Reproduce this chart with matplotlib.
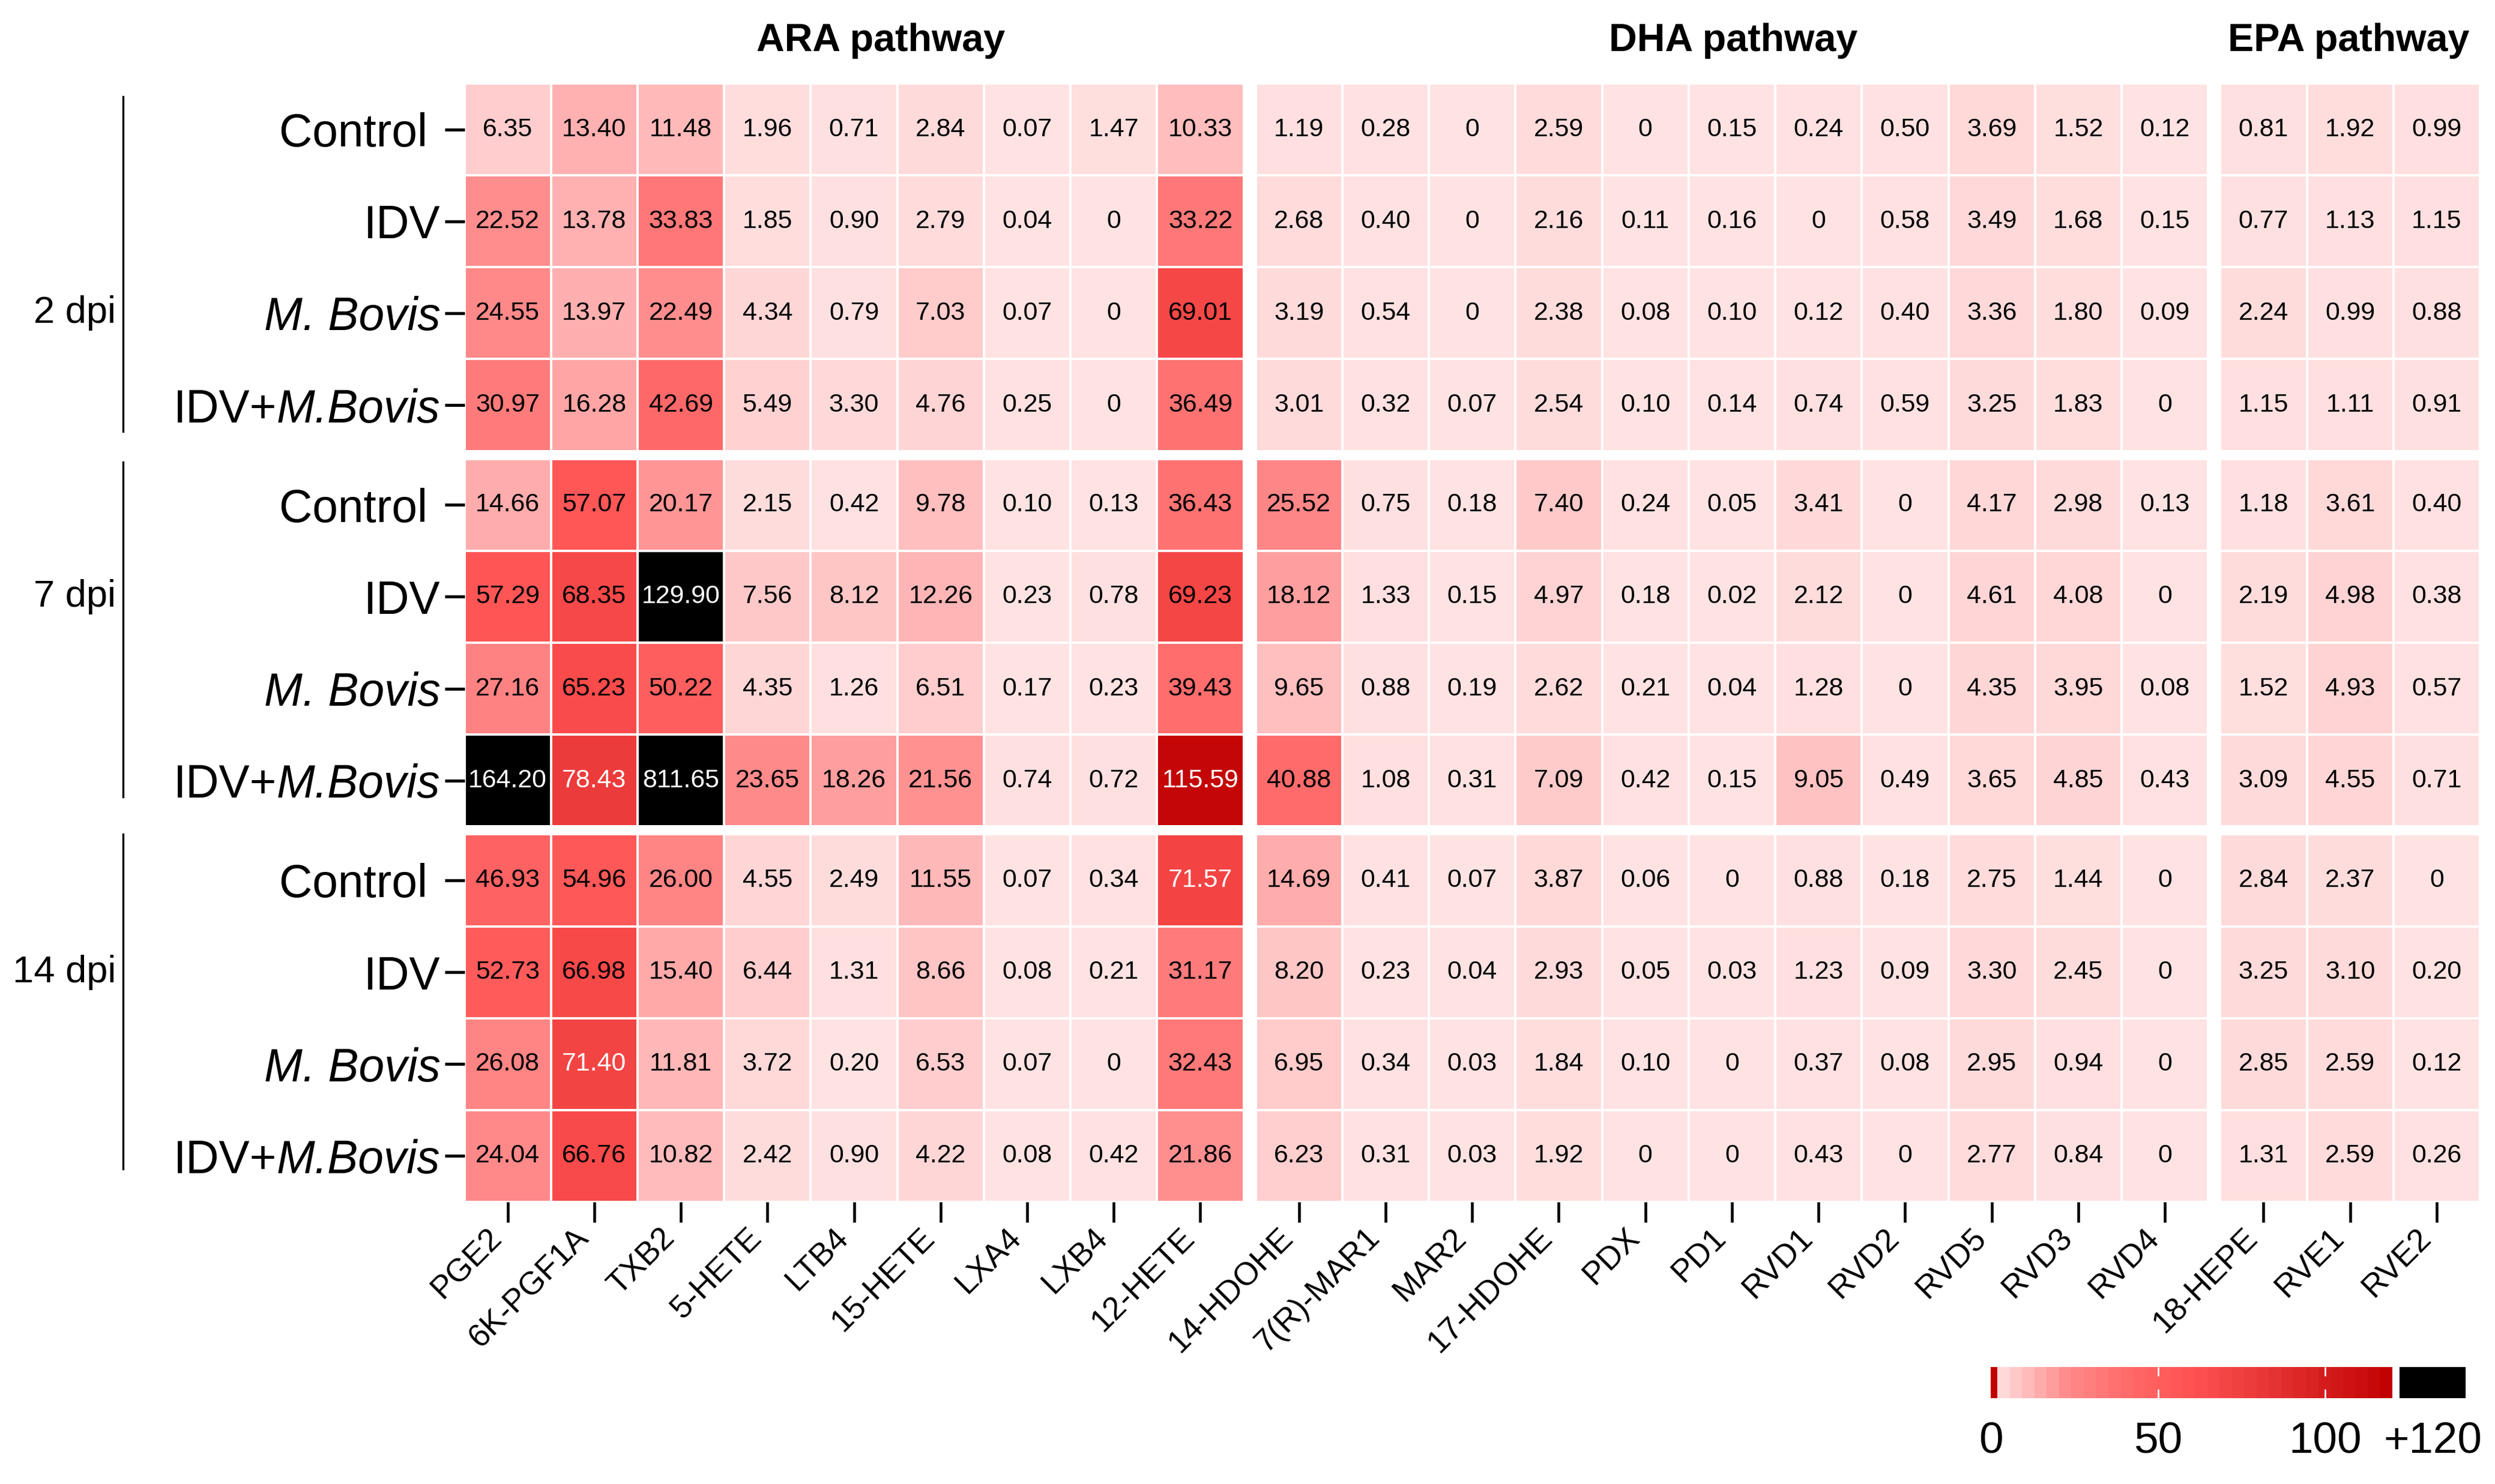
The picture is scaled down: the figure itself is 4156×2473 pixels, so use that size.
import numpy as np
import matplotlib
matplotlib.use('Agg')
import matplotlib.pyplot as plt
from matplotlib.colors import LinearSegmentedColormap, Normalize
from matplotlib import transforms

# --- data ---
ara_names = ['PGE2', '6K-PGF1A', 'TXB2', '5-HETE', 'LTB4', '15-HETE', 'LXA4', 'LXB4', '12-HETE']
dha_names = ['14-HDOHE', '7(R)-MAR1', 'MAR2', '17-HDOHE', 'PDX', 'PD1', 'RVD1', 'RVD2', 'RVD5', 'RVD3', 'RVD4']
epa_names = ['18-HEPE', 'RVE1', 'RVE2']
pathways = ['ARA pathway', 'DHA pathway', 'EPA pathway']
time_points = ['2 dpi', '7 dpi', '14 dpi']
treatments = ['Control ', 'IDV', 'M. Bovis', 'IDV+M.Bovis']

ara_values = [
    [6.35, 13.40, 11.48, 1.96, 0.71, 2.84, 0.07, 1.47, 10.33],
    [22.52, 13.78, 33.83, 1.85, 0.90, 2.79, 0.04, 0, 33.22],
    [24.55, 13.97, 22.49, 4.34, 0.79, 7.03, 0.07, 0, 69.01],
    [30.97, 16.28, 42.69, 5.49, 3.30, 4.76, 0.25, 0, 36.49],
    [14.66, 57.07, 20.17, 2.15, 0.42, 9.78, 0.10, 0.13, 36.43],
    [57.29, 68.35, 129.90, 7.56, 8.12, 12.26, 0.23, 0.78, 69.23],
    [27.16, 65.23, 50.22, 4.35, 1.26, 6.51, 0.17, 0.23, 39.43],
    [164.20, 78.43, 811.65, 23.65, 18.26, 21.56, 0.74, 0.72, 115.59],
    [46.93, 54.96, 26.00, 4.55, 2.49, 11.55, 0.07, 0.34, 71.57],
    [52.73, 66.98, 15.40, 6.44, 1.31, 8.66, 0.08, 0.21, 31.17],
    [26.08, 71.40, 11.81, 3.72, 0.20, 6.53, 0.07, 0, 32.43],
    [24.04, 66.76, 10.82, 2.42, 0.90, 4.22, 0.08, 0.42, 21.86],
]
dha_values = [
    [1.19, 0.28, 0, 2.59, 0, 0.15, 0.24, 0.50, 3.69, 1.52, 0.12],
    [2.68, 0.40, 0, 2.16, 0.11, 0.16, 0, 0.58, 3.49, 1.68, 0.15],
    [3.19, 0.54, 0, 2.38, 0.08, 0.10, 0.12, 0.40, 3.36, 1.80, 0.09],
    [3.01, 0.32, 0.07, 2.54, 0.10, 0.14, 0.74, 0.59, 3.25, 1.83, 0],
    [25.52, 0.75, 0.18, 7.40, 0.24, 0.05, 3.41, 0, 4.17, 2.98, 0.13],
    [18.12, 1.33, 0.15, 4.97, 0.18, 0.02, 2.12, 0, 4.61, 4.08, 0],
    [9.65, 0.88, 0.19, 2.62, 0.21, 0.04, 1.28, 0, 4.35, 3.95, 0.08],
    [40.88, 1.08, 0.31, 7.09, 0.42, 0.15, 9.05, 0.49, 3.65, 4.85, 0.43],
    [14.69, 0.41, 0.07, 3.87, 0.06, 0, 0.88, 0.18, 2.75, 1.44, 0],
    [8.20, 0.23, 0.04, 2.93, 0.05, 0.03, 1.23, 0.09, 3.30, 2.45, 0],
    [6.95, 0.34, 0.03, 1.84, 0.10, 0, 0.37, 0.08, 2.95, 0.94, 0],
    [6.23, 0.31, 0.03, 1.92, 0, 0, 0.43, 0, 2.77, 0.84, 0],
]
epa_values = [
    [0.81, 1.92, 0.99],
    [0.77, 1.13, 1.15],
    [2.24, 0.99, 0.88],
    [1.15, 1.11, 0.91],
    [1.18, 3.61, 0.40],
    [2.19, 4.98, 0.38],
    [1.52, 4.93, 0.57],
    [3.09, 4.55, 0.71],
    [2.84, 2.37, 0],
    [3.25, 3.10, 0.20],
    [2.85, 2.59, 0.12],
    [1.31, 2.59, 0.26],
]

# --- style ---
plt.rcParams['font.family'] = ['Liberation Sans', 'DejaVu Sans']

vmax = 120
anchors = [(0, '#FFE2E2'), (4, '#FFD7D7'), (7.5, '#FFC8C8'), (11, '#FFBABA'),
           (15, '#FFAAAA'), (18.5, '#FF9C9C'), (22, '#FF8E8E'), (26, '#FF8484'),
           (33, '#FF7878'), (45, '#FF6464'), (60, '#FF5252'), (80, '#EA3939'),
           (100, '#D51C1C'), (120, '#C00000')]
cmap = LinearSegmentedColormap.from_list('reds', [(v / vmax, c) for v, c in anchors], N=512)
cmap.set_over('black')
norm = Normalize(0, vmax)

W, H = 4156, 2473
fig = plt.figure(figsize=(W / 300, H / 300), dpi=300)
ax = fig.add_axes([773.5 / W, 1 - 2003 / H, (4131 - 773.5) / W, (2003 - 139) / H])

blocks = [ara_values, dha_values, epa_values]
names = [ara_names, dha_names, epa_names]
gx, gy = 0.139, 0.085
x_starts = [0, 9 + gx, 20 + 2 * gx]
y_starts = [0, 4 + gy, 8 + 2 * gy]

xticks, xlabels = [], []
for g, vals in enumerate(blocks):
    vals = np.array(vals, dtype=float)
    ncol = vals.shape[1]
    X = x_starts[g] + np.arange(ncol + 1)
    for r in range(3):
        sub = vals[r * 4:(r + 1) * 4]
        Y = y_starts[r] + np.arange(5)
        ax.pcolormesh(X, Y, sub, cmap=cmap, norm=norm, edgecolors='white', linewidth=0.85)
        for i in range(4):
            for j in range(ncol):
                v = sub[i, j]
                txt = '0' if v == 0 else f'{v:.2f}'
                ax.text(X[j] + 0.5, Y[i] + 0.5, txt, ha='center', va='center',
                        fontsize=10.3, color='white' if v > 70 else 'black')
    xticks += list(X[:-1] + 0.5)
    xlabels += names[g]

yticks = [y_starts[r] + i + 0.5 for r in range(3) for i in range(4)]
ax.set_xlim(0, 23 + 2 * gx)
ax.set_ylim(12 + 2 * gy, 0)
ax.set_xticks(xticks)
ax.set_xticklabels(xlabels, rotation=45, ha='right', fontsize=12.8)
shift = transforms.ScaledTranslation(24 / 300, -9 / 300, fig.dpi_scale_trans)
for lab in ax.get_xticklabels():
    lab.set_transform(lab.get_transform() + shift)
ax.set_yticks(yticks)
ax.set_yticklabels(['' if t == 'IDV+M.Bovis' else t for t in treatments] * 3, fontsize=18.4)
for k, lab in enumerate(ax.get_yticklabels()):
    if treatments[k % 4] == 'M. Bovis':
        lab.set_fontstyle('italic')
ax.tick_params(axis='x', length=8.2, width=1.1, pad=0)
ax.tick_params(axis='y', length=7.9, width=1.2, pad=1.7)
for s in ax.spines.values():
    s.set_visible(False)

# mixed upright/italic labels for the combined treatment
renderer = fig.canvas.get_renderer()
lblend = transforms.blended_transform_factory(fig.transFigure, ax.transData)
label_x = 733.5 / W
for r in range(3):
    yc = y_starts[r] + 3.5
    it = fig.text(label_x, yc, 'M.Bovis', transform=lblend, ha='right', va='center_baseline',
                  fontsize=18.4, fontstyle='italic')
    bb = it.get_window_extent(renderer)
    fig.text(bb.x0 / W, yc, 'IDV+', transform=lblend, ha='right', va='center_baseline',
             fontsize=18.4)

# pathway titles
for name, xc in zip(pathways, [1467, 2887, 3912]):
    fig.text(xc / W, 1 - 85 / H, name, ha='center', va='baseline',
             fontsize=15.5, fontweight='bold')

# time point labels and brackets
label_rows = [2, 1, 1]
line_offsets = [0.144, 0.035, 0.0]
for r, tp in enumerate(time_points):
    fig.text(193 / W, y_starts[r] + label_rows[r] + 0.5, tp, transform=lblend,
             ha='right', va='center', fontsize=15.2)
    y0 = y_starts[r] + line_offsets[r]
    ax.plot([205 / W, 205 / W], [y0, y0 + 3.64], transform=lblend, color='black',
            lw=0.8, clip_on=False)

# colour legend
cax = fig.add_axes([3316 / W, 1 - 2330 / H, (4107 - 3316) / W, 52 / H])
edges = np.linspace(2, vmax, 33)
mids = (edges[:-1] + edges[1:]) / 2
cax.pcolormesh(edges, [0, 1], [mids], cmap=cmap, norm=norm)
cax.axvspan(0, 2, color='#C00000', lw=0)
cax.axvspan(122.2, 141.9, color='black', lw=0)
cax.vlines([50, 100], 0, 0.28, color='white', lw=0.65)
cax.vlines([50, 100], 0.72, 1, color='white', lw=0.65)
cax.set_xlim(0, 141.9)
cax.set_ylim(0, 1)
cax.axis('off')
cblend = transforms.blended_transform_factory(cax.transData, cax.transAxes)
for v, t in zip([0, 50, 100, 132.05], ['0', '50', '100', '+120']):
    cax.text(v, -1.385, t, transform=cblend, ha='center', va='center', fontsize=17.5)

fig.savefig('out.png', dpi=300)
